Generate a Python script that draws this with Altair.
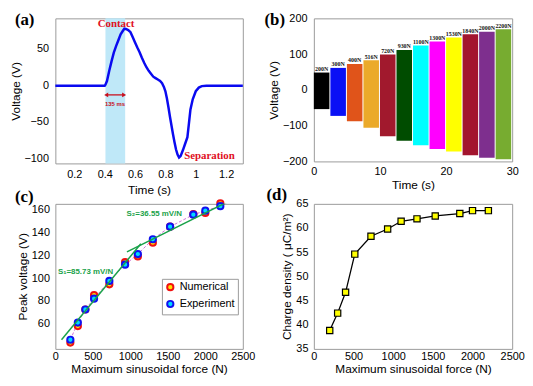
import altair as alt
import pandas as pd

SANS = "Liberation Sans"
SERIF = "Liberation Serif"
FRAME = "#9a9a9a"

# ---------------- panel (a): single pulse ----------------
a_time = [0.075, 0.1, 0.2, 0.3, 0.4, 0.405, 0.415, 0.43, 0.445, 0.46, 0.475, 0.49, 0.505,
          0.52, 0.53, 0.54, 0.555, 0.57, 0.585, 0.6, 0.615, 0.63, 0.645, 0.66, 0.675, 0.69,
          0.705, 0.72, 0.735, 0.75, 0.765, 0.778, 0.79, 0.80, 0.81, 0.82, 0.83, 0.84, 0.85,
          0.86, 0.87, 0.88, 0.89, 0.90, 0.915, 0.93, 0.945, 0.955, 0.965, 0.98, 1.0, 1.02,
          1.04, 1.07, 1.1, 1.2, 1.31]
a_volt = [-0.5, -0.5, -0.5, -0.5, -0.4, 1, 6, 20, 33, 45, 54, 62, 70,
          75, 78, 77.5, 76, 73, 66, 59, 52, 45.6, 38, 31, 25, 20,
          16, 12, 10, 8, 6, 3, -2, -8, -18, -30, -43, -55, -67,
          -78, -88, -95, -99, -97, -89, -80, -71, -52, -33, -19, -8, -3,
          -1, -0.4, -0.5, -0.5, -0.5]
a_band = [0.405, 0.535]
a_arrow = [0.41, 0.528, -13]
a_notes = ["Contact", "Separation", "135 ms"]
a_note_t = [0.475, 1.09, 0.468]
a_note_v = [84, -97, -25]

# ---------------- panel (b): output at increasing forces ----------------
b_labels = ["200N", "300N", "400N", "516N", "720N", "930N", "1100N", "1300N", "1530N",
            "1840N", "2000N", "2200N"]
b_start = [0, 2.5, 5, 7.5, 10, 12.5, 15, 17.5, 20, 22.5, 25, 27.5]
b_end = [2.35, 4.85, 7.35, 9.85, 12.35, 14.85, 17.35, 19.85, 22.35, 24.85, 27.35, 29.85]
b_top = [48.5, 61.5, 72.7, 83, 98.7, 111.7, 123.8, 135, 146.3, 155.8, 162.8, 169.7]
b_bottom = [-53.7, -72.7, -88, -105.6, -129.9, -142, -155, -165.4, -172, -182.7, -189.6, -194]
b_colors = ["#000000", "#0a10f5", "#e0541a", "#ebaa2a", "#a1192d", "#004c00", "#00ffff",
            "#ff00ff", "#ffff00", "#a3152e", "#7e2f8e", "#77ac30"]

# ---------------- panel (c): peak voltage ----------------
forces = [200, 300, 400, 516, 720, 930, 1100, 1300, 1530, 1840, 2000, 2200]
c_numerical = [43.5, 58, 72.5, 85, 94.5, 114, 119, 131, 145, 156, 157, 165.5]
c_experiment = [46, 61, 72.5, 82, 97.5, 111.7, 121, 134, 145, 155.5, 159, 163]
fit1_x = [82, 1140]
fit1_y = [46, 130]
fit2_x = [955, 2290]
fit2_y = [123, 166.5]
c_notes = ["S\u2081=85.73 mV/N", "S\u2082=36.55 mV/N"]
c_note_x = [35, 950]
c_note_y = [105.7, 156.4]

# ---------------- panel (d): charge density ----------------
d_charge = [38.8, 42.4, 46.7, 54.6, 58.3, 59.8, 61.4, 61.9, 62.5, 63.0, 63.6, 63.6]


def ax(title, values=None, fmt=None, lp=5, tp=4):
    kw = dict(title=title, labelPadding=lp, titlePadding=tp)
    if values is not None:
        kw["values"] = values
    if fmt is not None:
        kw["format"] = fmt
    return alt.Axis(**kw)


def panel_label(txt, x, y):
    return alt.Chart(pd.DataFrame({"lab": [txt]})).mark_text(
        font=SERIF, fontWeight="bold", fontSize=17, align="left", baseline="middle",
        color="black").encode(text="lab:N", x=alt.value(x), y=alt.value(y))


# ---- (a)
xa_s = alt.Scale(domain=[0.075, 1.31], nice=False, zero=False)
ya_s = alt.Scale(domain=[-107, 92], nice=False, zero=False)
xa_ax = ax("Time (s)", [0.2, 0.4, 0.6, 0.8, 1.0, 1.2], "~g", lp=5, tp=6)
ya_ax = ax("Voltage (V)", [-100, -50, 0, 50], lp=7, tp=2)


def XA(f):
    return alt.X(f, type="quantitative", scale=xa_s, axis=xa_ax)


def YA(f):
    return alt.Y(f, type="quantitative", scale=ya_s, axis=ya_ax)


a_df = pd.DataFrame({"t": a_time, "v": a_volt})
band = alt.Chart(pd.DataFrame({"t0": [a_band[0]], "t1": [a_band[1]]})).mark_rect(
    color="#bfe8f8").encode(x=XA("t0"), x2="t1")
pulse = alt.Chart(a_df).mark_line(color="#0a0af0", strokeWidth=2.5).encode(x=XA("t"), y=YA("v"))
arrow = alt.Chart(pd.DataFrame({"t0": [a_arrow[0]], "t1": [a_arrow[1]], "v": [a_arrow[2]]})).mark_rule(
    color="#c8101e", strokeWidth=1.3).encode(x=XA("t0"), x2="t1", y=YA("v"))
heads = alt.Chart(pd.DataFrame({"t": [a_arrow[0], a_arrow[1]], "v": [a_arrow[2]] * 2,
                                "sh": ["triangle-left", "triangle-right"]})).mark_point(
    filled=True, size=22, color="#c8101e", opacity=1).encode(
    x=XA("t"), y=YA("v"), shape=alt.Shape("sh:N", scale=None))
notes_df = pd.DataFrame({"t": a_note_t, "v": a_note_v, "txt": a_notes})
a_notes_big = alt.Chart(notes_df.iloc[:2]).mark_text(
    font=SERIF, fontWeight="bold", fontSize=11, color="#e0101e").encode(
    x=XA("t"), y=YA("v"), text="txt:N")
a_notes_small = alt.Chart(notes_df.iloc[2:]).mark_text(
    font=SANS, fontWeight="bold", fontSize=6, color="#c8101e").encode(
    x=XA("t"), y=YA("v"), text="txt:N")
panel_a = alt.layer(band, pulse, arrow, heads, a_notes_big, a_notes_small,
                    panel_label("(a)", -41, 2)).properties(width=190, height=147)

# ---- (b)
xb_s = alt.Scale(domain=[0, 30], nice=False)
yb_s = alt.Scale(domain=[-200, 200], nice=False)
xb_ax = ax("Time (s)", [0, 10, 20, 30], lp=4, tp=3)
yb_ax = ax("Voltage (V)", [-200, -100, 0, 100, 200], lp=7, tp=2)
b_df = pd.DataFrame({"start": b_start, "end": b_end, "top": b_top, "bottom": b_bottom,
                     "lab": b_labels})
b_rects = alt.Chart(b_df).mark_rect().encode(
    x=alt.X("start:Q", scale=xb_s, axis=xb_ax), x2="end",
    y=alt.Y("bottom:Q", scale=yb_s, axis=yb_ax), y2="top",
    color=alt.Color("lab:N", scale=alt.Scale(domain=b_labels, range=b_colors), legend=None))
b_text = alt.Chart(b_df).transform_calculate(mid="(datum.start + datum.end) / 2").mark_text(
    font=SERIF, fontWeight="bold", fontSize=6, baseline="bottom", dy=-0.5, color="#111").encode(
    x=alt.X("mid:Q", scale=xb_s, axis=xb_ax), y=alt.Y("top:Q", scale=yb_s, axis=yb_ax),
    text="lab:N")
panel_b = alt.layer(b_rects, b_text, panel_label("(b)", -50, 2)).properties(width=201, height=145)

# ---- (c)
xc_s = alt.Scale(domain=[0, 2500], nice=False)
yc_s = alt.Scale(domain=[38, 165], nice=False, zero=False)
xc_ax = ax("Maximum sinusoidal force (N)", [0, 500, 1000, 1500, 2000, 2500], "d", lp=2, tp=2)
yc_ax = ax("Peak voltage (V)", [60, 80, 100, 120, 140, 160], lp=6, tp=2)


def XC(f):
    return alt.X(f, type="quantitative", scale=xc_s, axis=xc_ax)


def YC(f):
    return alt.Y(f, type="quantitative", scale=yc_s, axis=yc_ax)


c_df = pd.DataFrame({
    "force": forces * 2,
    "volt": c_numerical + c_experiment,
    "series": ["Numerical"] * len(forces) + ["Experiment"] * len(forces),
    "ord": [0] * len(forces) + [1] * len(forces),
})
leg = alt.Legend(orient="none", legendX=108, legendY=76, title=None, fillColor="white",
                 strokeColor=FRAME, padding=3, rowPadding=2, labelFont=SANS, labelFontSize=11,
                 symbolType="circle", symbolSize=40, symbolStrokeWidth=2, labelColor="black")
dash = alt.Chart(c_df[c_df.series == "Experiment"]).mark_line(
    color="#d070d8", strokeWidth=1, strokeDash=[3, 2]).encode(x=XC("force"), y=YC("volt"))
pts = alt.Chart(c_df).mark_point(size=40, strokeWidth=2, opacity=1, filled=False).encode(
    x=XC("force"), y=YC("volt"),
    stroke=alt.Stroke("series:N", scale=alt.Scale(domain=["Numerical", "Experiment"],
                                                   range=["#f01010", "#1010f0"]), legend=leg),
    fill=alt.Fill("series:N", scale=alt.Scale(domain=["Numerical", "Experiment"],
                                               range=["#ffe000", "#00d8ff"]), legend=leg),
    order=alt.Order("ord:Q"))
fit_df = pd.DataFrame({"x": fit1_x + fit2_x, "y": fit1_y + fit2_y, "seg": [1, 1, 2, 2]})
fits = alt.Chart(fit_df).mark_line(color="#1aa24a", strokeWidth=1.5, clip=True).encode(
    x=XC("x"), y=YC("y"), detail="seg:N")
c_txt = alt.Chart(pd.DataFrame({"x": c_note_x, "y": c_note_y, "txt": c_notes})).mark_text(
    font=SANS, fontWeight="bold", fontSize=8, align="left", color="#1aa24a").encode(
    x=XC("x"), y=YC("y"), text="txt:N")
panel_c = alt.layer(dash, pts, fits, c_txt, panel_label("(c)", -41, -7)).properties(
    width=190, height=147)

# ---- (d)
xd_s = alt.Scale(domain=[0, 2500], nice=False)
yd_s = alt.Scale(domain=[35, 65], nice=False, zero=False)
d_df = pd.DataFrame({"force": forces, "q": d_charge})
d_line = alt.Chart(d_df).mark_line(
    color="black", strokeWidth=1.3,
    point=alt.OverlayMarkDef(shape="square", filled=True, fill="#ffff00", stroke="black",
                             strokeWidth=1.2, size=40)).encode(
    x=alt.X("force:Q", scale=xd_s,
            axis=ax("Maximum sinusoidal force (N)", [0, 500, 1000, 1500, 2000, 2500], "d",
                    lp=2, tp=2)),
    y=alt.Y("q:Q", scale=yd_s,
            axis=ax("Charge density ( \u03bcC/m\u00b2)", [35, 40, 45, 50, 55, 60, 65], lp=6, tp=2)))
panel_d = alt.layer(d_line, panel_label("(d)", -48, -9)).properties(width=201, height=147)

chart = alt.concat(panel_a, panel_b, panel_c, panel_d, columns=2,
                   spacing={"row": 41, "column": 72}, bounds="flush", align="each").resolve_legend(
    fill="independent", stroke="independent", color="independent"
).resolve_scale(
    fill="independent", stroke="independent", color="independent"
).properties(
    padding=0, background="white"
).configure_view(stroke=FRAME, strokeWidth=1).configure_axis(
    labelFont=SANS, labelFontSize=11, labelColor="black", titleFont=SANS, titleFontSize=12,
    titleFontWeight="normal", titleColor="black", domain=False, ticks=False, grid=False,
    labelOverlap=False, labelFlush=False
)

chart.save("out.html", embed_options={"renderer": "svg", "actions": False})
